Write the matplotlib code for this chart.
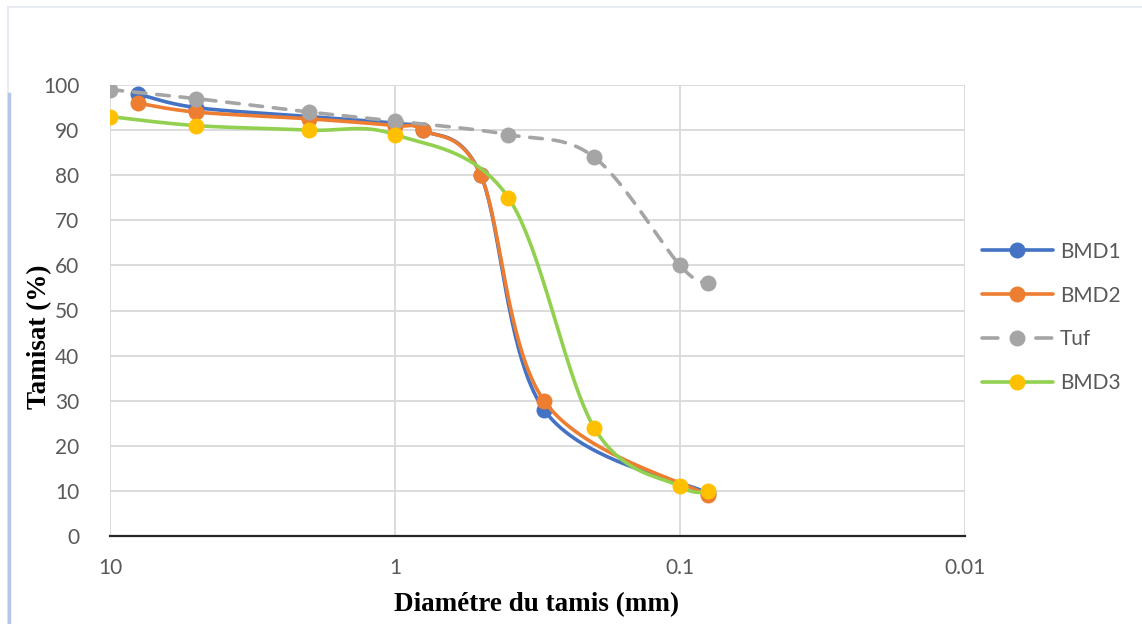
import matplotlib
matplotlib.use("Agg")
import matplotlib.pyplot as plt
from matplotlib.lines import Line2D
from matplotlib.patches import Rectangle
import numpy as np

# sieve sizes (mm) and passing percentages
x_bmd1 = [8, 5, 2, 1, 0.8, 0.5, 0.3, 0.08]
y_bmd1 = [98, 95, 93, 91.5, 90, 80, 28, 9.5]
x_bmd2 = [8, 5, 2, 1, 0.8, 0.5, 0.3, 0.08]
y_bmd2 = [96, 94, 92.5, 91, 90, 80, 30, 9]
x_tuf = [10, 5, 2, 1, 0.4, 0.2, 0.1, 0.08]
y_tuf = [99, 97, 94, 92, 89, 84, 60, 56]
x_bmd3 = [10, 5, 2, 1, 0.4, 0.2, 0.1, 0.08]
y_bmd3 = [93, 91, 90, 89, 75, 24, 11, 10]

x_ticks = [10, 1, 0.1, 0.01]
x_tick_labels = ["10", "1", "0.1", "0.01"]

TICK_GRAY = "#595959"
GRID = "#D9D9D9"


def smooth(xs, ys, n=40):
    # Excel-like smoothed line: cubic bezier through points, done in screen-ish space
    px = np.log10(xs) * 285.0
    py = np.array(ys, dtype=float) * 4.51
    P = np.column_stack([px, py])
    P = np.vstack([P[0], P, P[-1]])
    out = []
    for i in range(1, len(P) - 2):
        p0, p1, p2, p3 = P[i - 1], P[i], P[i + 1], P[i + 2]
        c1 = p1 + (p2 - p0) / 6.0
        c2 = p2 - (p3 - p1) / 6.0
        t = np.linspace(0, 1, n)[:, None]
        seg = ((1 - t) ** 3) * p1 + 3 * ((1 - t) ** 2) * t * c1 + 3 * (1 - t) * t ** 2 * c2 + t ** 3 * p2
        out.append(seg)
    out = np.vstack(out)
    return 10 ** (out[:, 0] / 285.0), out[:, 1] / 4.51


fig = plt.figure(figsize=(11.42, 6.24), dpi=100)

# light frame of the chart object
fig.patches.append(Rectangle((8 / 1142, -0.1), 1.2, 1 - 7 / 624 + 0.1, transform=fig.transFigure,
                             fill=False, edgecolor="#E8ECF2", linewidth=1.5))
fig.add_artist(Line2D([9 / 1142, 9 / 1142], [0, 0.85], transform=fig.transFigure,
                      color="#B4C7E7", linewidth=2.5))

ax = fig.add_axes([110 / 1142, 1 - 536 / 624, 855 / 1142, 451 / 624])
ax.set_xscale("log")
ax.set_xlim(10, 0.01)
ax.set_ylim(0, 100)

series = [
    ("BMD1", x_bmd1, y_bmd1, "#4472C4", "#4472C4", "-", "-"),
    ("BMD2", x_bmd2, y_bmd2, "#ED7D31", "#ED7D31", "-", "-"),
    ("Tuf", x_tuf, y_tuf, "#A5A5A5", "#A5A5A5", (0, (3.5, 3)), (0, (4.4, 10.5))),
    ("BMD3", x_bmd3, y_bmd3, "#92D050", "#FFC000", "-", "-"),
]

handles = []
for k, (name, xs, ys, lc, mc, ls, hls) in enumerate(series):
    sx, sy = smooth(xs, ys)
    ax.plot(sx, sy, color=lc, linewidth=2.6, linestyle=ls, zorder=3 + k, solid_capstyle="round",
            dash_capstyle="round")
    ax.plot(xs, ys, "o", color=mc, markersize=11.5, markeredgewidth=0, zorder=3 + k)
    handles.append(Line2D([0], [0], color=lc, linewidth=2.6, linestyle=hls, marker="o",
                          markerfacecolor=mc, markeredgewidth=0, markersize=11.5,
                          dash_capstyle="round", solid_capstyle="round"))

ax.set_xticks(x_ticks)
ax.set_xticklabels(x_tick_labels)
ax.xaxis.set_minor_locator(matplotlib.ticker.NullLocator())
ax.set_yticks(range(0, 101, 10))
ax.grid(True, color=GRID, linewidth=1.3)
ax.set_axisbelow(True)
for s in ["top", "right", "left"]:
    ax.spines[s].set_visible(False)
ax.spines["bottom"].set_color("#262626")
ax.spines["bottom"].set_linewidth(1.6)
ax.spines["bottom"].set_zorder(2.5)
ax.tick_params(length=0, labelsize=15, labelcolor=TICK_GRAY, labelfontfamily="Lato")
ax.tick_params(axis="y", pad=22)
ax.tick_params(axis="x", pad=16)

fig.text(537 / 1142, 1 - 605 / 624, "Diamétre du tamis (mm)", ha="center", va="center",
         fontsize=19.5, fontweight="bold", family="Liberation Serif")
fig.text(40 / 1142, 1 - 337 / 624, "Tamisat (%)", ha="center", va="center", rotation=90,
         fontsize=19.5, fontweight="bold", family="Liberation Serif")

fig.legend(handles, [s[0] for s in series], loc="center left",
           bbox_to_anchor=(982 / 1142, 1 - 317.5 / 624), frameon=False,
           prop={"family": "Lato", "size": 15}, labelcolor=TICK_GRAY,
           handlelength=3.4, handletextpad=0.35, labelspacing=1.15,
           borderpad=0, borderaxespad=0)

fig.savefig("out.png", dpi=100, facecolor="white")
